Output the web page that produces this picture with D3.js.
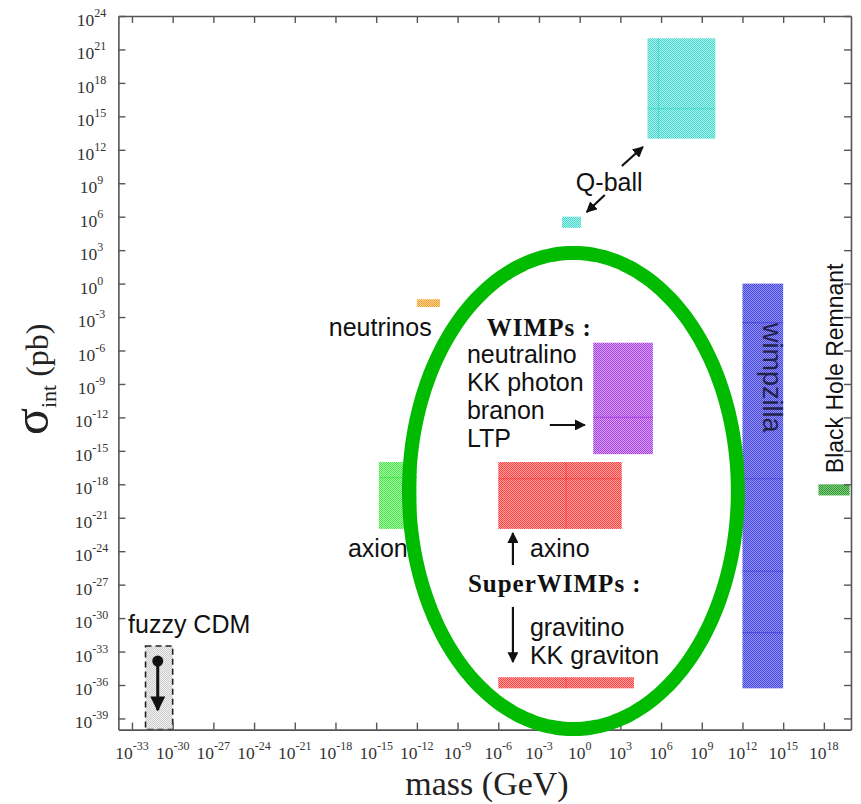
<!DOCTYPE html>
<html><head><meta charset="utf-8">
<script src="https://cdn.jsdelivr.net/npm/d3@7"></script>
<style>body{margin:0;background:#fff}</style>
</head><body><svg id="c" width="861" height="804"></svg>
<script>
// ---------------- data (log10 values) ----------------
const xTickExponents = [-33,-30,-27,-24,-21,-18,-15,-12,-9,-6,-3,0,3,6,9,12,15,18];
const yTickExponents = [-39,-36,-33,-30,-27,-24,-21,-18,-15,-12,-9,-6,-3,0,3,6,9,12,15,18,21,24];

const candidates   = ["Q-ball (large)","Q-ball (small)","neutrinos","WIMPs","axino","gravitino","axion","wimpzilla","Black Hole Remnant","fuzzy CDM"];
const logMassMin   = [5,   -1.3, -12,  1,    -6,  -6,    -14.8, 12,    17.6, -32];
const logMassMax   = [10,   0.1, -10.3, 5.4,  3.1, 4,    -12,   15,    19.9, -30];
const logSigmaMin  = [13,   5,   -2.1, -15.3, -22, -36.3, -22,  -36.3, -19,  -40];
const logSigmaMax  = [22,   6,   -1.4, -5.3,  -16, -35.3, -16,   0,    -18,  -32.5];
const innerSigmaLines = [[15.7],[],[],[-12],[-17.5],[],[-17.4],[-3.5,-17.5,-25.8,-31.3],[],[]];
const innerMassLines  = [[5.8],[],[],[],[-1],[-1],[],[],[],[]];

const labelTexts     = ["Q-ball","neutrinos","neutralino","KK photon","branon","LTP","axion","axino","gravitino","KK graviton","fuzzy CDM"];
const labelGroup     = [0, 1, 2, 2, 2, 2, 3, 4, 5, 5, 6];
const labelLogMass   = [-0.28, -18.49, -8.31, -8.31, -8.31, -8.31, -17.08, -3.67, -3.67, -3.67, -33.29];
const labelLogSigma  = [8.3, -4.7, -7.12, -9.63, -12.14, -14.65, -24.52, -24.52, -31.61, -34.12, -31.34];

const boldTexts    = ["WIMPs :","SuperWIMPs :"];
const boldLogMass  = [-6.84, -8.24];
const boldLogSigma = [-4.7, -27.66];

const arrowFromLogMass  = [3.11, 1.85, -2.2, -4.92, -4.92, -31.1];
const arrowFromLogSigma = [10.55, 7.95, -12.68, -25.24, -29.0, -33.85];
const arrowToLogMass    = [4.66, 0.52, 0.38, -4.92, -4.92, -31.1];
const arrowToLogSigma   = [12.25, 6.42, -12.68, -22.37, -33.94, -38.24];

// highlight ellipse (in log10 space)
const ellipseCenter = [-0.46, -18.6];
const ellipseHalfAxes = [12.12, 21.35];

// ---------------- styles ----------------
const palette = {
  "Q-ball (large)": ["#45d8ce","#b0f0eb"],
  "Q-ball (small)": ["#45d8ce","#b0f0eb"],
  "neutrinos": ["#f0a030","#f9d595"],
  "WIMPs": ["#a640e2","#d8a2f3"],
  "axino": ["#ff4040","#ffa3a3"],
  "gravitino": ["#ff4040","#ffa3a3"],
  "axion": ["#44e844","#aef5ae"],
  "wimpzilla": ["#4646de","#9494f2"],
  "Black Hole Remnant": ["#2e9a2e","#86cc86"],
  "fuzzy CDM": ["#cdcdcd","#f0f0f0"]
};
const SANS = "'Liberation Sans', Arial, sans-serif";
const SERIF = "'Liberation Serif', 'Times New Roman', serif";
const P = e => Math.pow(10, e);

const svg = d3.select("#c");
const x = d3.scaleLog().domain([1e-34, 1e20]).range([118.4, 851]);
const y = d3.scaleLog().domain([1e-40, 1e24]).range([729.6, 16]);

const defs = svg.append("defs");
candidates.forEach((c, i) => {
  const [strong, light] = palette[c];
  const p = defs.append("pattern").attr("id", "pat" + i)
    .attr("patternUnits", "userSpaceOnUse").attr("width", 2).attr("height", 2);
  p.append("rect").attr("width", 2).attr("height", 2).attr("fill", light);
  p.append("rect").attr("x", 0).attr("y", 0).attr("width", 1).attr("height", 1).attr("fill", strong);
  p.append("rect").attr("x", 1).attr("y", 1).attr("width", 1).attr("height", 1).attr("fill", strong);
});
defs.append("marker").attr("id", "ah").attr("viewBox", "0 0 10 10")
  .attr("refX", 9).attr("refY", 5).attr("markerWidth", 5).attr("markerHeight", 5)
  .attr("orient", "auto").append("path").attr("d", "M0,0L10,5L0,10z").attr("fill", "#111");
defs.append("marker").attr("id", "ahBig").attr("viewBox", "0 0 10 10")
  .attr("refX", 9).attr("refY", 5).attr("markerWidth", 5).attr("markerHeight", 5)
  .attr("orient", "auto").append("path").attr("d", "M0,0L10,5L0,10z").attr("fill", "#111");

// ---------------- boxes ----------------
const boxes = svg.append("g");
candidates.forEach((c, i) => {
  const x0 = x(P(logMassMin[i])), x1 = x(P(logMassMax[i]));
  const y0 = y(P(logSigmaMax[i])), y1 = y(P(logSigmaMin[i]));
  boxes.append("rect").attr("x", x0).attr("y", y0).attr("width", x1 - x0).attr("height", y1 - y0)
    .attr("fill", `url(#pat${i})`)
    .attr("stroke", c === "fuzzy CDM" ? "#222" : "none")
    .attr("stroke-width", 1.6).attr("stroke-dasharray", c === "fuzzy CDM" ? "6,4" : null);
  innerSigmaLines[i].forEach(s => {
    boxes.append("line").attr("x1", x0).attr("x2", x1).attr("y1", y(P(s))).attr("y2", y(P(s)))
      .attr("stroke", palette[c][0]).attr("stroke-width", 1.2).attr("opacity", 0.8);
  });
  innerMassLines[i].forEach(m => {
    boxes.append("line").attr("x1", x(P(m))).attr("x2", x(P(m))).attr("y1", y0).attr("y2", y1)
      .attr("stroke", palette[c][0]).attr("stroke-width", 1.2).attr("opacity", 0.8);
  });
});

// ---------------- axes ----------------
const axisColor = "#555";
function styleAxis(g) {
  g.selectAll("path.domain").attr("stroke", axisColor).attr("stroke-width", 1.6);
  g.selectAll(".tick line").attr("stroke", axisColor).attr("stroke-width", 1.4);
  g.selectAll(".tick text").remove();
}
const [bottomY, topY] = y.range();
const [leftX, rightX] = x.range();
svg.append("g").attr("transform", `translate(0,${bottomY})`)
  .call(d3.axisBottom(x).tickValues(xTickExponents.map(P)).tickSizeInner(-7).tickSizeOuter(0)).call(styleAxis);
svg.append("g").attr("transform", `translate(0,${topY})`)
  .call(d3.axisTop(x).tickValues(xTickExponents.map(P)).tickSizeInner(-7).tickSizeOuter(0)).call(styleAxis);
svg.append("g").attr("transform", `translate(${leftX},0)`)
  .call(d3.axisLeft(y).tickValues(yTickExponents.map(P)).tickSizeInner(-7).tickSizeOuter(0)).call(styleAxis);
svg.append("g").attr("transform", `translate(${rightX},0)`)
  .call(d3.axisRight(y).tickValues(yTickExponents.map(P)).tickSizeInner(-7).tickSizeOuter(0)).call(styleAxis);

function powLabel(g, e, px, py) {
  const t = g.append("text").attr("x", px).attr("y", py).attr("text-anchor", "middle")
    .attr("font-family", SERIF).attr("fill", "#333");
  t.append("tspan").attr("font-size", 17.5).text("10");
  t.append("tspan").attr("font-size", 12).attr("dy", -9).text(String(e));
}
const tickLabels = svg.append("g");
xTickExponents.forEach(e => powLabel(tickLabels, e, x(P(e)), bottomY + 29));
yTickExponents.forEach(e => powLabel(tickLabels, e, leftX - 27, y(P(e)) + 10));

// axis titles
svg.append("text").attr("x", 487).attr("y", 795).attr("text-anchor", "middle")
  .attr("font-family", SERIF).attr("font-size", 34).attr("fill", "#222").text("mass (GeV)");
const yt = svg.append("text").attr("transform", "translate(48,435) rotate(-90)")
  .attr("font-family", SERIF).attr("fill", "#222");
yt.append("tspan").attr("font-size", 50).text("σ");
yt.append("tspan").attr("font-size", 22).attr("dy", 8).text("int");
yt.append("tspan").attr("font-size", 32).attr("dy", -8).text(" (pb)");

// ---------------- arrows ----------------
const arrows = svg.append("g");
arrowFromLogMass.forEach((m, i) => {
  const isFuzzy = i === arrowFromLogMass.length - 1;
  arrows.append("line")
    .attr("x1", x(P(m))).attr("y1", y(P(arrowFromLogSigma[i])))
    .attr("x2", x(P(arrowToLogMass[i]))).attr("y2", y(P(arrowToLogSigma[i])))
    .attr("stroke", "#111").attr("stroke-width", isFuzzy ? 3 : 2.2)
    .attr("marker-end", isFuzzy ? "url(#ahBig)" : "url(#ah)");
  if (isFuzzy) arrows.append("circle").attr("cx", x(P(m))).attr("cy", y(P(arrowFromLogSigma[i])))
    .attr("r", 5.5).attr("fill", "#111");
});

// ---------------- labels ----------------
const labels = svg.append("g");
d3.groups(labelTexts.map((t, i) => i), i => labelGroup[i]).forEach(([, idx]) => {
  const t = labels.append("text").attr("font-family", SANS).attr("font-size", 25).attr("fill", "#111");
  idx.forEach(i => {
    t.append("tspan").attr("x", x(P(labelLogMass[i]))).attr("y", y(P(labelLogSigma[i]))).text(labelTexts[i]);
  });
});
boldTexts.forEach((t, i) => {
  labels.append("text").attr("x", x(P(boldLogMass[i]))).attr("y", y(P(boldLogSigma[i])))
    .attr("font-family", SERIF).attr("font-weight", "bold").attr("font-size", 25)
    .attr("letter-spacing", 1).attr("fill", "#111").text(t);
});
labels.append("text")
  .attr("transform", `translate(${x(P(13.5))},${y(P(-3.53))}) rotate(90)`)
  .attr("font-family", SANS).attr("font-size", 27).attr("fill", "#23234a").text("wimpzilla");
labels.append("text")
  .attr("transform", `translate(${x(P(19.4))},${y(P(-17.0))}) rotate(-90)`)
  .attr("font-family", SANS).attr("font-size", 23).attr("fill", "#111").text("Black Hole Remnant");

// ---------------- highlight ellipse ----------------
const ellipsePts = d3.range(0, 360, 2).map(a => {
  const r = a * Math.PI / 180;
  return [ellipseCenter[0] + ellipseHalfAxes[0] * Math.cos(r), ellipseCenter[1] + ellipseHalfAxes[1] * Math.sin(r)];
});
svg.append("path")
  .attr("d", d3.line().x(d => x(P(d[0]))).y(d => y(P(d[1]))).curve(d3.curveCardinalClosed)(ellipsePts))
  .attr("fill", "none").attr("stroke", "#00bb00").attr("stroke-width", 14);
</script></body></html>
